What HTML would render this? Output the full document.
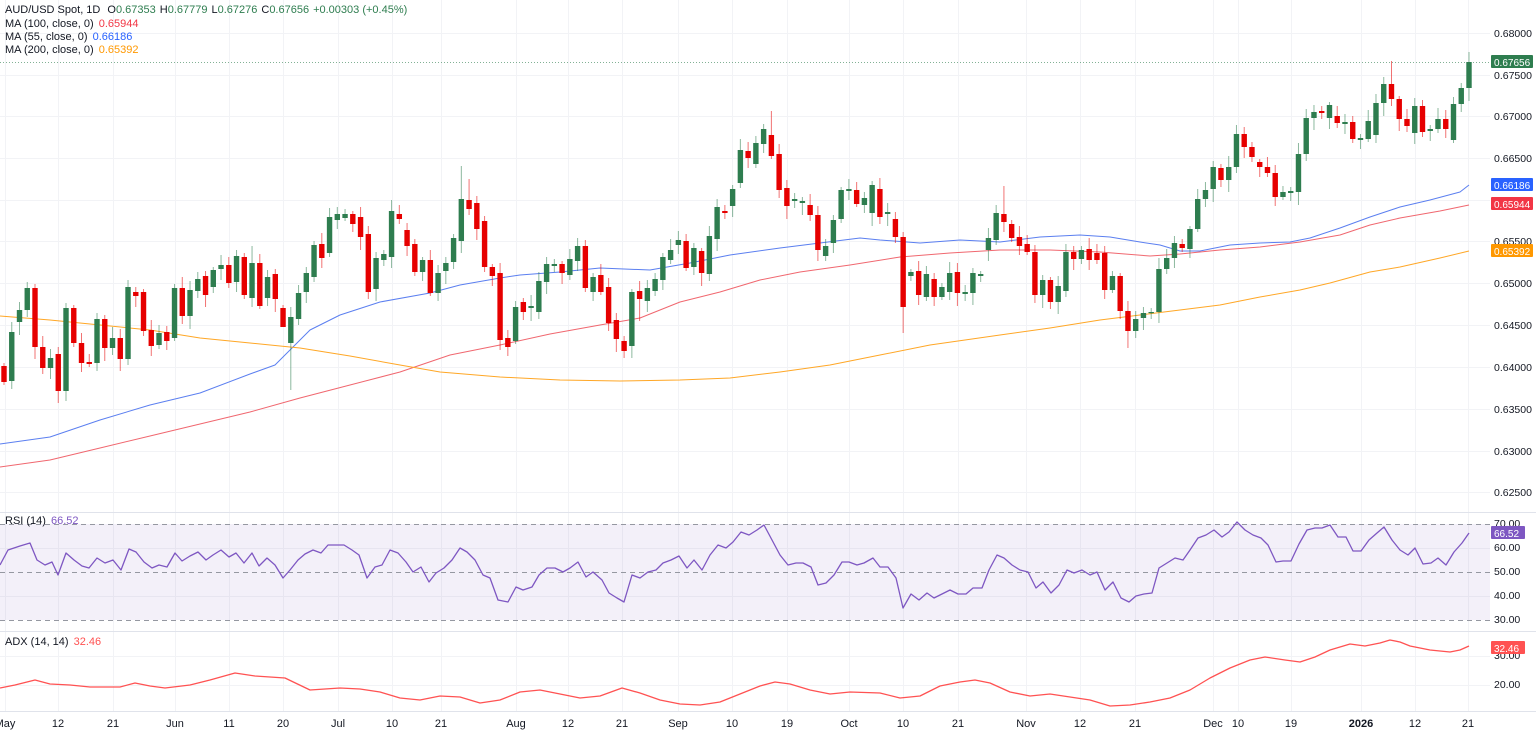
<!DOCTYPE html>
<html><head><meta charset="utf-8"><style>
html,body{margin:0;padding:0;background:#fff;}
svg{display:block;font-family:"Liberation Sans",sans-serif;}
</style></head><body>
<svg id="c" width="1536" height="734" xmlns="http://www.w3.org/2000/svg">
<rect width="1536" height="734" fill="#fff"/>
<g id="grid"></g>
<rect x="0" y="524" width="1490" height="96" fill="#7e57c2" fill-opacity="0.09"/>
<g stroke="#9598a1" stroke-dasharray="5,4" stroke-width="1">
<line x1="0" y1="524.5" x2="1490" y2="524.5"/><line x1="0" y1="572.5" x2="1490" y2="572.5"/><line x1="0" y1="620.5" x2="1490" y2="620.5"/>
</g>
<line x1="0" y1="512.5" x2="1536" y2="512.5" stroke="#e0e3eb"/>
<line x1="0" y1="631.5" x2="1536" y2="631.5" stroke="#e0e3eb"/>
<line x1="0" y1="711.5" x2="1536" y2="711.5" stroke="#e0e3eb"/>
<line x1="0" y1="62.5" x2="1490" y2="62.5" stroke="#2e7d4f" stroke-opacity="0.6" stroke-dasharray="1,2"/>
<g id="ma"></g>
<g id="candles"></g>
<g id="ind"></g>
<g id="labels" font-size="11" fill="#131722"></g>
<g font-size="11">
<text x="5" y="13" fill="#131722">AUD/USD Spot, 1D <tspan dx="4">O</tspan><tspan fill="#2e7d4f">0.67353</tspan><tspan dx="4">H</tspan><tspan fill="#2e7d4f">0.67779</tspan><tspan dx="4">L</tspan><tspan fill="#2e7d4f">0.67276</tspan><tspan dx="4">C</tspan><tspan fill="#2e7d4f">0.67656</tspan><tspan dx="4" fill="#2e7d4f">+0.00303 (+0.45%)</tspan></text>
<text x="5" y="27" fill="#131722">MA (100, close, 0) <tspan dx="2" fill="#f23645">0.65944</tspan></text>
<text x="5" y="40" fill="#131722">MA (55, close, 0) <tspan dx="2" fill="#2962ff">0.66186</tspan></text>
<text x="5" y="53" fill="#131722">MA (200, close, 0) <tspan dx="2" fill="#ff9800">0.65392</tspan></text>
<text x="5" y="524" fill="#131722">RSI (14) <tspan dx="2" fill="#7e57c2">66.52</tspan></text>
<text x="5" y="645" fill="#131722">ADX (14, 14) <tspan dx="2" fill="#ff5252">32.46</tspan></text>
</g>
</svg>
<script>
const NS="http://www.w3.org/2000/svg";
function el(p,t,a,txt){const e=document.createElementNS(NS,t);for(const k in a)e.setAttribute(k,a[k]);if(txt!=null)e.textContent=txt;document.getElementById(p).appendChild(e);return e;}
const prices=[["0.68000",33],["0.67500",75],["0.67000",116],["0.66500",158],["0.66000",200],["0.65500",241],["0.65000",283],["0.64500",325],["0.64000",367],["0.63500",409],["0.63000",451],["0.62500",492]];
prices.forEach(p=>{el("grid","line",{x1:0,x2:1490,y1:p[1]+.5,y2:p[1]+.5,stroke:"#f2f3f6"});el("labels","text",{x:1494,y:p[1]+4,"font-size":10.5},p[0]);});
const xl=[["May",5],["12",58],["21",113],["Jun",175],["11",229],["20",283],["Jul",338],["10",392],["21",441],["Aug",516],["12",568],["21",622],["Sep",678],["10",732],["19",787],["Oct",849],["10",903],["21",958],["Nov",1026],["12",1080],["21",1135],["Dec",1213],["10",1238],["19",1291],["2026",1361],["12",1415],["21",1468]];
xl.forEach(p=>{el("grid","line",{x1:p[1]+.5,x2:p[1]+.5,y1:0,y2:711,stroke:"#f2f3f6"});el("labels","text",{x:p[1],y:727,"text-anchor":"middle","font-weight":p[0]=="2026"?"bold":"normal"},p[0]);});
[["70.00",527],["60.00",551],["50.00",575],["40.00",599],["30.00",623],["30.00",659],["20.00",688]].forEach(p=>el("labels","text",{x:1494,y:p[1],"font-size":10.5},p[0]));
[[584,548],[584,596],[1490,656],[1490,685]].forEach(p=>el("grid","line",{x1:0,x2:1490,y1:p[1]+.5,y2:p[1]+.5,stroke:"#f2f3f6"}));
const D="r366-382 g332-381 g310-322 g288-310 r288-347 r347-368 g358-368 r354-391 g308-391 r308-343 r343-363 r362-364 g319-363 r319-348 g338-348 r338-359 g287-359 r292-296 r292-331 r330-346 g333-345 r332-341 g288-338 r288-316 g290-316 g279-291 r276-295 g270-287 g265-269 r265-283 g256-282 r257-295 g263-298 r263-306 g277-298 r274-299 r308-327 g317-343 g293-319 g273-292 g245-277 r244-258 g217-253 g214-220 g214-218 r214-224 r217-237 r234-292 g258-289 g254-260 g211-257 r214-219 r230-246 r244-272 g260-272 r260-293 g273-293 g263-271 g238-262 g199-241 r200-209 r203-229 r221-267 r267-276 r273-340 r338-347 g307-341 r302-312 g306-308 g281-312 g264-282 g264-266 r264-273 g259-275 g246-261 r246-288 g277-292 r275-292 r287-323 r320-339 r341-351 g292-346 r291-299 g288-301 g279-291 g257-280 g250-260 g240-245 r241-268 g248-267 r251-273 g236-274 g207-239 r211-213 g189-206 g150-183 r151-158 g143-164 g129-144 r135-156 r154-190 r188-206 g199-201 g201-203 r205-215 r215-250 g246-256 g220-243 g190-219 g189-191 r190-204 g198-205 g185-213 r189-217 g212-214 r219-237 r237-307 g272-276 r271-295 g274-297 r279-297 g287-297 g273-292 r272-293 g292-294 g273-293 g274-276 g238-250 g213-240 r214-222 r224-238 r237-246 r244-252 r252-295 g280-295 r280-302 g286-302 g252-291 r252-259 g250-259 r249-260 r253-260 r253-290 g276-290 r276-311 r311-331 g319-331 g313-318 g312-313 g269-312 g258-269 g243-258 r244-248 g229-249 g199-229 g190-199 g167-189 r168-180 g167-180 g134-167 r134-147 r147-157 r162-167 r167-173 r173-197 g192-197 g191-193 g154-192 g118-154 g112-118 r111-113 g105-118 r116-123 g122-124 r122-139 g138-140 g121-139 g103-135 g84-103 r84-99 r99-119 r119-126 g106-133 r106-132 g129-131 g119-129 r119-129 g104-140 g88-104 g62-88".split(" ");
const ov={7:[null,403],36:[null,322],37:[null,390],60:[179,null],64:[null,350],99:[111,null],116:[null,333],129:[186,null],145:[null,348],179:[61,null],189:[52,null],59:[166,null],32:[246,null],82:[null,321]};
const n=D.length,x0=4,dx=(1469-4)/(n-1);
D.forEach((s,i)=>{const g=s[0]=="g";const [t,b]=s.slice(1).split("-").map(Number);const x=x0+i*dx;
let hi=t-(3+((i*7)%9)),lo=b+(3+((i*5)%11));if(ov[i]){if(ov[i][0]!=null)hi=ov[i][0];if(ov[i][1]!=null)lo=ov[i][1];}
const col=g?"#2e7d4f":"#e60000";
el("candles","line",{x1:x,x2:x,y1:hi,y2:lo,stroke:col,"stroke-opacity":.55,"stroke-width":1});
el("candles","rect",{x:x-2.7,y:t,width:5.4,height:Math.max(b-t,1.2),fill:col});});
function pl(p,pts,c,w){el(p,"polyline",{points:pts.map(q=>q.join(",")).join(" "),fill:"none",stroke:c,"stroke-width":w||1,"stroke-linejoin":"round"});}
pl("ma",[[0,444],[50,437],[100,420],[150,405],[200,393],[250,374],[275,365],[290,350],[310,330],[340,315],[380,302],[430,293],[460,285],[500,278],[520,275],[560,272],[600,268],[650,270],[690,263],[730,255],[780,248],[820,243],[860,238],[880,240],[920,243],[960,240],[1000,242],[1040,237],[1080,235],[1110,237],[1140,242],[1160,245],[1180,251],[1200,251],[1230,245],[1260,243],[1290,242],[1310,238],[1340,228],[1370,217],[1400,207],[1430,200],[1460,192],[1469,185]],"#5b7ff0");
pl("ma",[[0,467],[50,460],[100,448],[150,436],[200,424],[250,412],[300,398],[350,385],[400,372],[450,355],[500,345],[550,334],[600,325],[640,318],[680,302],[720,292],[760,280],[800,272],[850,265],[900,257],[950,253],[1000,250],[1050,250],[1100,252],[1150,256],[1180,254],[1220,250],[1260,247],[1300,242],[1340,235],[1370,225],[1400,218],[1440,211],[1469,205]],"#f0676f");
pl("ma",[[0,316],[50,320],[100,325],[150,330],[200,338],[250,343],[300,348],[350,356],[400,365],[440,372],[500,377],[560,380],[620,381],[680,380],[730,378],[780,372],[830,365],[880,355],[930,345],[1000,335],[1050,328],[1100,320],[1140,315],[1180,310],[1220,305],[1260,297],[1300,290],[1330,283],[1370,272],[1400,267],[1440,258],[1469,251]],"#ffa726");
pl("ind",[[0,565],[8,550],[20,546],[30,543],[37,560],[45,565],[52,562],[58,575],[66,553],[74,560],[82,566],[89,568],[97,558],[105,563],[113,560],[121,570],[129,549],[136,552],[144,562],[152,568],[159,565],[167,567],[175,553],[182,561],[190,556],[198,552],[206,560],[213,555],[221,550],[229,557],[236,553],[244,563],[252,553],[259,566],[267,558],[275,565],[283,578],[290,570],[298,560],[305,554],[313,550],[321,553],[328,545],[336,545],[344,545],[352,550],[359,555],[367,578],[375,567],[382,565],[390,550],[398,553],[406,562],[413,572],[421,567],[429,582],[436,573],[444,568],[452,560],[460,548],[467,552],[475,560],[483,575],[490,578],[498,600],[508,602],[516,587],[523,590],[532,587],[539,575],[547,568],[555,568],[563,572],[570,568],[578,562],[586,577],[593,572],[602,580],[609,593],[617,598],[624,602],[632,575],[640,578],[648,572],[656,570],[663,563],[671,560],[679,556],[687,568],[694,560],[702,570],[710,555],[718,545],[726,548],[733,542],[741,532],[749,535],[757,530],[764,525],[772,540],[780,555],[788,565],[796,563],[803,563],[811,567],[818,585],[826,583],[834,575],[842,562],[849,562],[857,565],[864,563],[873,558],[880,567],[888,567],[896,578],[903,608],[911,594],[919,600],[927,593],[934,598],[942,594],[950,590],[958,594],[966,594],[973,588],[982,588],[989,570],[997,555],[1004,558],[1012,565],[1020,570],[1028,572],[1036,588],[1043,582],[1051,593],[1059,585],[1067,570],[1074,573],[1082,570],[1090,575],[1097,572],[1105,590],[1113,582],[1121,598],[1129,602],[1136,596],[1144,594],[1152,593],[1159,568],[1167,563],[1175,558],[1183,560],[1190,550],[1198,538],[1206,535],[1214,530],[1222,537],[1229,532],[1237,522],[1245,530],[1253,535],[1261,538],[1268,545],[1276,562],[1283,561],[1291,561],[1299,544],[1307,530],[1315,528],[1322,528],[1330,525],[1338,537],[1346,537],[1353,551],[1361,551],[1369,540],[1377,533],[1384,527],[1392,540],[1400,550],[1408,555],[1415,548],[1423,564],[1431,563],[1438,558],[1446,565],[1454,552],[1462,543],[1469,533]],"#7e57c2",1.3);
pl("ind",[[0,688],[15,685],[35,680],[50,684],[70,685],[90,687],[120,687],[135,683],[150,686],[165,688],[190,685],[210,680],[235,673],[255,676],[285,678],[310,690],[340,688],[360,689],[380,692],[400,698],[420,700],[440,696],[460,697],[480,703],[500,700],[520,692],[540,690],[560,694],[580,698],[600,696],[622,688],[640,693],[660,700],[680,704],[700,705],[720,702],[740,694],[760,686],[775,682],[790,684],[810,690],[830,694],[850,692],[880,693],[900,698],[920,696],[940,686],[960,682],[975,680],[990,683],[1010,692],[1030,696],[1050,694],[1070,697],[1090,700],[1110,706],[1130,705],[1150,702],[1170,698],[1190,690],[1210,678],[1230,668],[1250,660],[1265,657],[1285,660],[1300,662],[1315,657],[1330,650],[1350,644],[1365,646],[1380,643],[1390,640],[1400,642],[1410,646],[1430,650],[1450,652],[1460,650],[1469,646]],"#ff5252",1.3);
[["0.67656",62,"#2e7d4f"],["0.66186",185,"#2962ff"],["0.65944",204,"#f23645"],["0.65392",251,"#ff9800"],["66.52",533,"#7e57c2"],["32.46",648,"#ff5252"]].forEach(p=>{const w=p[0].length>5?42:34;el("labels","rect",{x:1491,y:p[1]-7,width:w,height:13,fill:p[2],rx:1});el("labels","text",{x:1494,y:p[1]+4,fill:"#fff","font-size":10},p[0]);});
</script>
</body></html>
